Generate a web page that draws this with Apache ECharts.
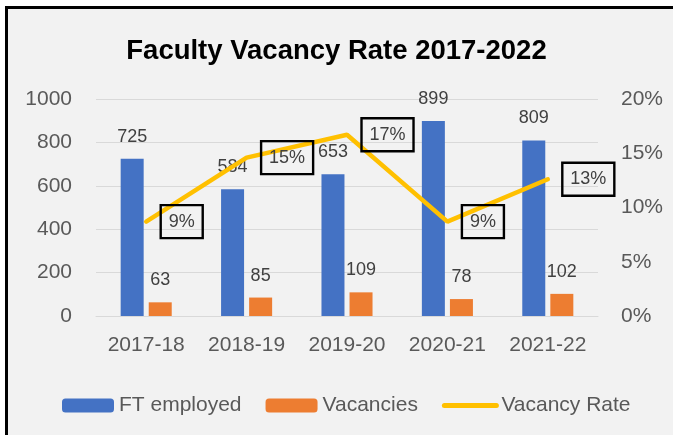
<!DOCTYPE html>
<html>
<head>
<meta charset="utf-8">
<script src="https://cdn.jsdelivr.net/npm/echarts@6/dist/echarts.min.js"></script>
<style>
  html, body { margin: 0; padding: 0; background: #fff; overflow: hidden; }
  #frame {
    position: absolute; left: 5px; top: 6px; width: 720px; height: 480px;
    background: #f2f2f2; border-left: 3px solid #000; border-top: 3px solid #000;
  }
  #chart { position: absolute; left: 0; top: 0; width: 673px; height: 435px; }
</style>
</head>
<body>
<div id="frame"></div>
<div id="chart"></div>
<script>
(function() {
  var years = ['2017-18', '2018-19', '2019-20', '2020-21', '2021-22'];
  var ftEmployed = [725, 584, 653, 899, 809];
  var vacancies = [63, 85, 109, 78, 102];
  var vacancyRate = [0.087, 0.146, 0.167, 0.087, 0.126];

  var font = '"Liberation Sans", Arial, sans-serif';
  var axisGrey = '#595959';
  var labelInk = '#404040';
  var rule = '#d9d9d9';

  var chart = echarts.init(document.getElementById('chart'), null, { renderer: 'canvas' });
  chart.setOption({
    animation: false,
    backgroundColor: 'transparent',
    textStyle: { fontFamily: font },
    title: {
      text: 'Faculty Vacancy Rate 2017-2022',
      left: 'center',
      top: 32,
      textStyle: { fontFamily: font, fontSize: 27.5, fontWeight: 'bold', color: '#000' }
    },
    grid: { left: 96, right: 75, top: 99, bottom: 119 },
    legend: {
      left: 57,
      top: 390,
      itemWidth: 52,
      itemHeight: 14,
      itemGap: 24,
      textStyle: { fontFamily: font, fontSize: 21, color: axisGrey },
      data: [
        'FT employed',
        'Vacancies',
        { name: 'Vacancy Rate', itemStyle: { opacity: 0 }, lineStyle: { width: 5, cap: 'round' } }
      ]
    },
    xAxis: {
      type: 'category',
      data: years,
      axisTick: { show: false },
      axisLine: { lineStyle: { color: rule, width: 1 } },
      axisLabel: { color: axisGrey, fontSize: 21, margin: 19, fontFamily: font }
    },
    yAxis: [{
      type: 'value',
      min: 0,
      max: 1000,
      interval: 200,
      axisLine: { show: false },
      axisTick: { show: false },
      splitLine: { lineStyle: { color: rule, width: 1 } },
      axisLabel: {
        color: axisGrey, fontSize: 21, margin: 24, fontFamily: font,
        formatter: function(v) { return String(v); }
      }
    }, {
      type: 'value',
      min: 0,
      max: 0.2,
      interval: 0.05,
      axisLine: { show: false },
      axisTick: { show: false },
      splitLine: { show: false },
      axisLabel: {
        color: axisGrey, fontSize: 21, margin: 23, fontFamily: font,
        formatter: function(v) { return Math.round(v * 100) + '%'; }
      }
    }],
    series: [{
      name: 'FT employed',
      type: 'bar',
      data: ftEmployed,
      barWidth: 23,
      barGap: '22%',
      itemStyle: { color: '#4472c4' },
      label: { show: true, position: 'top', distance: 13, color: labelInk, fontSize: 18, fontFamily: font }
    }, {
      name: 'Vacancies',
      type: 'bar',
      data: vacancies,
      barWidth: 23,
      itemStyle: { color: '#ed7d31' },
      label: { show: true, position: 'top', distance: 13, color: labelInk, fontSize: 18, fontFamily: font }
    }, {
      name: 'Vacancy Rate',
      type: 'line',
      yAxisIndex: 1,
      data: vacancyRate,
      symbol: 'circle',
      symbolSize: 1,
      showSymbol: true,
      itemStyle: { color: '#ffc000' },
      lineStyle: { color: '#ffc000', width: 4.5, cap: 'round' },
      label: {
        show: true,
        position: 'right',
        distance: 14,
        color: labelInk,
        fontSize: 18,
        fontFamily: font,
        backgroundColor: 'transparent',
        borderColor: '#000',
        borderWidth: 1.2,
        padding: [8, 8, 7, 8],
        formatter: function(p) { return Math.round(p.value * 100) + '%'; }
      },
      labelLayout: { hideOverlap: false },
      z: 5
    }]
  });
  window.addEventListener('resize', function() { chart.resize(); });
})();
</script>
</body>
</html>
